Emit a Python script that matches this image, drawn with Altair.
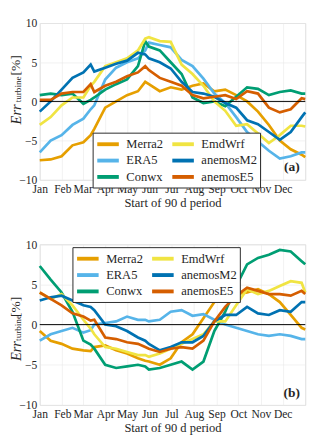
import altair as alt
import pandas as pd

DAYS = [0, 15, 30, 45, 60, 70, 75, 90, 105, 120, 135, 145, 150, 165, 180, 195, 210, 225,
        240, 255, 270, 285, 300, 315, 330, 345, 360, 365]

MONTH_STARTS = [0, 31, 59, 90, 120, 151, 181, 212, 243, 273, 304, 334]
MONTH_LABELS = ["Jan", "Feb", "Mar", "Apr", "May", "Jun", "Jul", "Aug", "Sep", "Oct", "Nov", "Dec"]

SERIES = ["Merra2", "ERA5", "Conwx", "EmdWrf", "anemosM2", "anemosE5"]
COLORS = ["#E69F00", "#56B4E9", "#009E73", "#F0E442", "#0072B2", "#D55E00"]

# Panel (a)
A_MERRA2 = [-7.5, -7.4, -7.0, -5.6, -5.2, -4.3, -3.5, -0.8, 0.0, 0.8, 1.3, 2.5, 2.2, 1.3, 1.8, 1.5,
            2.0, 2.3, 1.3, 1.5, 0.8, 0.0, -1.3, -3.0, -5.0, -6.1, -6.8, -7.1]
A_ERA5 = [-6.5, -5.0, -4.3, -3.0, -2.2, -1.0, -0.5, 2.8, 4.3, 5.0, 5.5, 6.5, 7.5, 7.2, 6.9, 5.3,
          4.5, 2.9, 1.0, -0.2, -2.0, -3.9, -5.1, -6.3, -7.3, -7.0, -6.5, -6.5]
A_CONWX = [0.8, 1.0, 0.8, 1.0, -0.3, 0.2, 0.5, 1.5, 2.2, 2.8, 4.5, 7.7, 7.0, 6.5, 5.0, 3.5,
           0.5, -0.2, 0.0, -0.6, 0.6, 1.8, 1.6, 0.8, 1.2, 1.4, 1.0, 1.0]
A_EMDWRF = [-3.0, -2.0, -0.5, 0.5, 0.5, 2.0, 2.5, 4.5, 5.0, 5.5, 6.5, 8.0, 8.2, 7.7, 7.6, 4.7,
            3.5, 2.0, 0.0, -1.2, -3.1, -2.9, -4.1, -5.3, -4.3, -3.1, -3.1, -3.2]
A_ANEMOSM2 = [-1.3, 0.0, 1.5, 3.0, 3.7, 4.7, 3.8, 4.3, 4.8, 5.2, 6.2, 6.0, 5.5, 5.0, 4.2, 2.5,
              1.2, 1.0, 0.6, -0.2, -0.8, -2.4, -2.9, -3.9, -4.9, -3.9, -2.0, -1.4]
A_ANEMOSE5 = [0.2, 0.2, 1.0, 1.2, 1.2, 2.2, 1.2, 2.0, 2.5, 3.2, 3.7, 4.5, 4.0, 3.0, 2.5, 2.0,
              0.8, 0.4, 0.6, 0.8, 0.3, 1.3, 1.0, -0.8, -1.4, -1.0, 0.4, 0.3]

# Panel (b)
B_MERRA2 = [-0.8, -2.0, -2.4, -3.0, -3.2, -3.3, -2.8, -2.6, -3.2, -3.6, -4.2, -4.5, -4.6, -5.0, -4.2, -2.2,
            -1.2, 0.8, 2.8, 4.0, 3.8, 4.0, 4.4, 3.8, 2.8, 1.2, -0.4, -0.6]
B_ERA5 = [-2.0, -1.2, -0.8, -0.4, -1.0, -0.7, 0.0, 0.2, 0.4, 1.0, 0.6, 0.6, 0.4, 0.6, 1.6, 1.8,
          1.1, 1.3, 0.6, 0.0, -0.4, -0.8, -1.2, -1.4, -1.2, -1.4, -1.8, -1.8]
B_CONWX = [7.3, 5.6, 4.0, 1.6, -2.0, -2.5, -3.0, -5.0, -5.4, -5.2, -5.0, -5.2, -5.6, -5.4, -5.0, -4.6,
           -5.6, -4.6, -0.8, 1.6, 4.8, 7.5, 8.3, 8.7, 9.3, 9.1, 7.9, 7.5]
B_EMDWRF = [4.0, 3.2, 3.8, 2.4, 0.6, -0.5, -1.2, -2.8, -3.0, -3.4, -3.8, -3.8, -4.0, -3.6, -3.0, -2.4,
            -1.8, -1.2, 0.4, 0.4, 2.4, 4.4, 3.8, 4.2, 4.8, 5.4, 5.2, 4.0]
B_ANEMOSM2 = [3.0, 3.4, 3.6, 3.0, 2.4, 2.2, 1.8, 0.0, -0.2, -0.8, -1.6, -2.0, -2.4, -3.2, -2.8, -2.2,
              -2.2, -1.4, 0.4, 1.2, 1.2, 2.2, 1.4, 1.2, 1.8, 1.6, 2.8, 2.8]
B_ANEMOSE5 = [4.0, 3.2, 2.4, 1.4, 1.0, 0.5, 0.6, -1.6, -1.8, -2.2, -2.4, -2.8, -3.0, -3.4, -3.0, -2.8,
              -3.0, -2.0, 0.4, 2.2, 3.6, 4.6, 4.2, 3.8, 3.8, 3.6, 4.2, 3.8]

PANEL_A = [A_MERRA2, A_ERA5, A_CONWX, A_EMDWRF, A_ANEMOSM2, A_ANEMOSE5]
PANEL_B = [B_MERRA2, B_ERA5, B_CONWX, B_EMDWRF, B_ANEMOSM2, B_ANEMOSE5]

FONT = "Liberation Serif"
INK = "#262626"
W = 276


def to_df(panel):
    rows = []
    for k, (name, vals) in enumerate(zip(SERIES, panel)):
        for d, v in zip(DAYS, vals):
            rows.append({"day": d, "value": v, "series": name, "k": k})
    return pd.DataFrame(rows)


label_expr = "[" + ",".join("'%s'" % m for m in MONTH_LABELS) + "][indexof([" + \
    ",".join(str(m) for m in MONTH_STARTS) + "], datum.value)]"


def panel(panel_data, h, legend_x, legend_y, tag, tag_xy, title_pos):
    df = to_df(panel_data)
    lines = alt.Chart(df).mark_line(strokeWidth=2.8).encode(
        x=alt.X("day:Q", scale=alt.Scale(domain=[0, 365], nice=False, zero=False),
                axis=alt.Axis(values=MONTH_STARTS, labelExpr=label_expr,
                              title="Start of 90 d period", grid=True,
                              gridColor="#e8e8e8", gridWidth=0.6,
                              labelOverlap=False, labelFlush=False,
                              ticks=False, domain=False, labelPadding=4,
                              titlePadding=3, labelFontSize=12, titleFontSize=13,
                              labelFont=FONT, titleFont=FONT,
                              labelColor=INK, titleColor=INK,
                              titleFontWeight="normal")),
        y=alt.Y("value:Q", scale=alt.Scale(domain=[-10, 10], nice=False),
                axis=alt.Axis(values=[-10, -5, 0, 5, 10], title=None, grid=True,
                              gridColor="#e8e8e8", gridWidth=0.6,
                              ticks=False, domain=False, labelPadding=3,
                              labelFontSize=12, labelColor=INK, labelFont=FONT,
                              labelOverlap=False, labelFlush=False)),
        color=alt.Color("series:N", scale=alt.Scale(domain=SERIES, range=COLORS),
                        legend=alt.Legend(title=None, orient="none", legendX=legend_x,
                                          legendY=legend_y, columns=2,
                                          symbolType="M-1.6,0H1.6", symbolSize=196,
                                          symbolStrokeWidth=4, labelFontSize=13,
                                          labelFont=FONT, columnPadding=0,
                                          symbolOffset=4, labelOffset=10,
                                          rowPadding=0, padding=3,
                                          strokeColor=INK, fillColor="white",
                                          labelColor=INK)),
        order="k:Q",
    )
    zero = alt.Chart(pd.DataFrame({"z": [0]})).mark_rule(color="black", strokeWidth=1).encode(
        y="z:Q")
    tagm = alt.Chart(pd.DataFrame({"t": [tag]})).mark_text(
        font=FONT, fontSize=14, fontWeight="bold", color=INK).encode(
        text="t:N", x=alt.value(tag_xy[0]), y=alt.value(tag_xy[1]))
    (ey, ty, py) = title_pos
    t1 = alt.Chart(pd.DataFrame({"t": ["Err"]})).mark_text(
        font=FONT, fontSize=15, fontStyle="italic", angle=270, color=INK).encode(
        text="t:N", x=alt.value(-25), y=alt.value(ey))
    t2 = alt.Chart(pd.DataFrame({"t": ["turbine"]})).mark_text(
        font=FONT, fontSize=9.5, angle=270, color=INK).encode(
        text="t:N", x=alt.value(-22), y=alt.value(ty))
    t3 = alt.Chart(pd.DataFrame({"t": ["[%]"]})).mark_text(
        font=FONT, fontSize=14, angle=270, color=INK).encode(
        text="t:N", x=alt.value(-25), y=alt.value(py))
    return alt.layer(lines, zero, tagm, t1, t2, t3).properties(width=W, height=h)


pa = panel(PANEL_A, 163, 55, 114, "(a)", (262, 150), (95, 69, 44))
pb = panel(PANEL_B, 167, 34, 3, "(b)", (262, 155), (111, 87, 65))

chart = alt.vconcat(pa, pb, spacing=28).resolve_scale(
    color="independent", y="independent").resolve_legend(color="independent").properties(
    padding={"left": 0, "top": 0, "right": 0, "bottom": 0}).configure_view(
    stroke=INK, strokeWidth=0.8).configure(font=FONT)

chart.save("out.html", embed_options={"renderer": "svg", "actions": False})
